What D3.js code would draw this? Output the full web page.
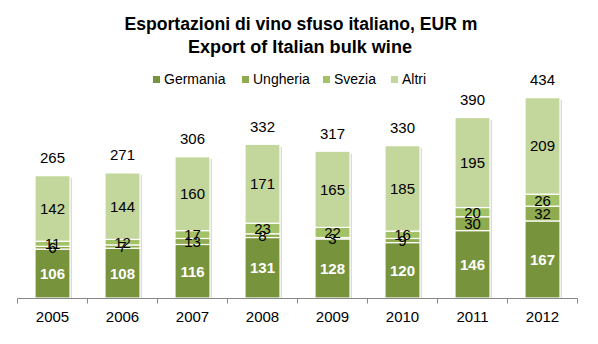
<!DOCTYPE html>
<html>
<head>
<meta charset="utf-8">
<script src="https://cdn.jsdelivr.net/npm/d3@7"></script>
<style>
  body { margin: 0; background: #fff; }
  svg { display: block; }
</style>
</head>
<body>
<script>
const years = ["2005","2006","2007","2008","2009","2010","2011","2012"];
const seriesNames = ["Germania","Ungheria","Svezia","Altri"];
const germania = [106,108,116,131,128,120,146,167];
const ungheria = [6,7,13,8,3,9,30,32];
const svezia = [11,12,17,23,22,16,20,26];
const altri = [142,144,160,171,165,185,195,209];
const totals = [265,271,306,332,317,330,390,434];
const colors = ["#77933C","#8FAA4F","#A3C166","#C3D69B"];
const titleLines = ["Esportazioni di vino sfuso italiano, EUR m","Export of Italian bulk wine"];

const W = 598, H = 344;
const svg = d3.select("body").append("svg").attr("width", W).attr("height", H);

const rows = years.map((y, i) => ({year: y, Germania: germania[i], Ungheria: ungheria[i], Svezia: svezia[i], Altri: altri[i], total: totals[i]}));
const stack = d3.stack().keys(seriesNames)(rows);

const x = d3.scaleBand().domain(years).range([17.5, 577.5]).paddingInner(0.5).paddingOuter(0.25);
const y = d3.scaleLinear().domain([0, 450]).range([298, 90.3]);

// title
const titleFont = "'Liberation Sans Narrow','Arial Narrow','Liberation Sans',sans-serif";
svg.append("text").attr("x", 301).attr("y", 30).attr("text-anchor", "middle")
  .attr("font-family", titleFont).attr("font-weight", "bold").attr("font-size", 18)
  .attr("textLength", 353).attr("lengthAdjust", "spacingAndGlyphs")
  .attr("fill", "#000").text(titleLines[0]);
svg.append("text").attr("x", 300).attr("y", 53).attr("text-anchor", "middle")
  .attr("font-family", titleFont).attr("font-weight", "bold").attr("font-size", 18)
  .attr("textLength", 224).attr("lengthAdjust", "spacingAndGlyphs")
  .attr("fill", "#000").text(titleLines[1]);

// legend
const legX = [153, 242, 323, 391];
const leg = svg.append("g").selectAll("g").data(seriesNames).join("g")
  .attr("transform", (d, i) => `translate(${legX[i]},76)`);
leg.append("rect").attr("width", 7).attr("height", 7).attr("fill", (d, i) => colors[i]);
leg.append("text").attr("x", 11).attr("y", 7.5)
  .attr("font-family", "'Liberation Sans',Arial,sans-serif").attr("font-size", 14)
  .attr("fill", "#000").text(d => d);

// bar shadows
svg.append("g").selectAll("rect").data(rows).join("rect")
  .attr("x", d => x(d.year) + 2).attr("width", x.bandwidth())
  .attr("y", d => y(d.total) + 2).attr("height", d => y(0) - y(d.total) - 2)
  .attr("fill", "#dcdcdc");

// bars
const layers = svg.append("g").selectAll("g").data(stack).join("g")
  .attr("fill", (d, i) => colors[i]);
layers.selectAll("rect").data(d => d).join("rect")
  .attr("x", d => x(d.data.year)).attr("width", x.bandwidth())
  .attr("y", d => y(d[1])).attr("height", d => y(d[0]) - y(d[1]))
  .attr("stroke", "#fff").attr("stroke-width", 1.2);

// segment labels
stack.forEach((layer, li) => {
  svg.append("g").selectAll("text").data(layer).join("text")
    .attr("x", d => x(d.data.year) + x.bandwidth() / 2)
    .attr("y", d => (y(d[0]) + y(d[1])) / 2 + 5.5)
    .attr("text-anchor", "middle")
    .attr("font-family", "'Liberation Sans',Arial,sans-serif")
    .attr("font-size", 15)
    .attr("font-weight", li === 0 ? "bold" : "normal")
    .attr("fill", li === 0 ? "#fff" : "#000")
    .text(d => d[1] - d[0]);
});

// totals
svg.append("g").selectAll("text").data(rows).join("text")
  .attr("x", d => x(d.year) + x.bandwidth() / 2)
  .attr("y", d => y(d.total) - 13)
  .attr("text-anchor", "middle")
  .attr("font-family", "'Liberation Sans',Arial,sans-serif").attr("font-size", 15)
  .attr("fill", "#000").text(d => d.total);

// x axis
const xAxis = d3.axisBottom(x).tickSize(0).tickPadding(13);
const ax = svg.append("g").attr("transform", "translate(0,298)").call(xAxis);
ax.select(".domain").remove();
ax.selectAll("text").attr("font-family", "'Liberation Sans',Arial,sans-serif").attr("font-size", 15).attr("fill", "#000");
ax.append("line").attr("x1", 17.5).attr("x2", 577.5).attr("y1", 0.5).attr("y2", 0.5).attr("stroke", "#888");
const bounds = d3.range(years.length + 1).map(i => 17.5 + i * x.step());
ax.selectAll(".bound").data(bounds).join("line").attr("class", "bound")
  .attr("x1", d => d).attr("x2", d => d).attr("y1", 0.5).attr("y2", 5.5).attr("stroke", "#888");
</script>
</body>
</html>
